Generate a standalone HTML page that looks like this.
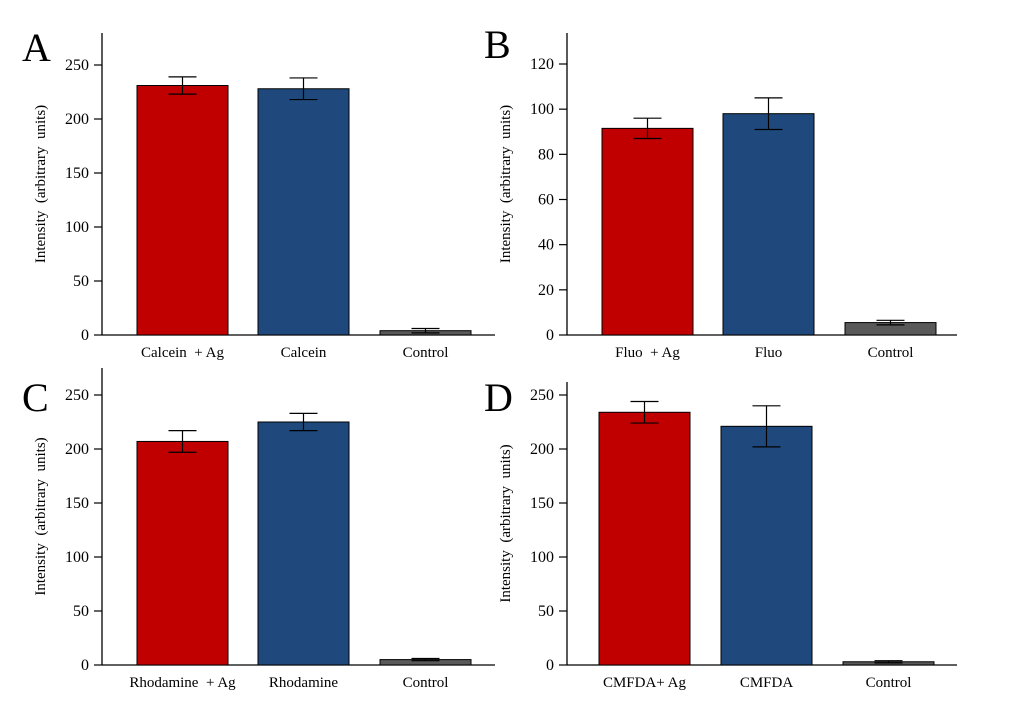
<!DOCTYPE html>
<html><head><meta charset="utf-8">
<style>
html,body{margin:0;padding:0;background:#fff;}
svg{display:block;font-family:"Liberation Serif",serif;}
svg text{white-space:pre;}
</style></head>
<body>
<svg id="chart" width="1024" height="714" viewBox="0 0 1024 714" xmlns="http://www.w3.org/2000/svg"></svg>
<script>
const panelLetters = ["A","B","C","D"];
const categoriesA = ["Calcein  + Ag","Calcein","Control"];
const categoriesB = ["Fluo  + Ag","Fluo","Control"];
const categoriesC = ["Rhodamine  + Ag","Rhodamine","Control"];
const categoriesD = ["CMFDA+ Ag","CMFDA","Control"];
const valuesA = [231, 228, 4];
const errorsA = [8, 10, 2];
const valuesB = [91.5, 98, 5.5];
const errorsB = [4.5, 7, 1];
const valuesC = [207, 225, 5];
const errorsC = [10, 8, 1];
const valuesD = [234, 221, 3];
const errorsD = [10, 19, 1];
const ticksA = [0,50,100,150,200,250];
const ticksB = [0,20,40,60,80,100,120];
const ticksC = [0,50,100,150,200,250];
const ticksD = [0,50,100,150,200,250];
const barColors = ["#c00000","#1f497d","#595959"];

const NS="http://www.w3.org/2000/svg";
const svg=document.getElementById('chart');
function mk(tag,attrs,parent){const e=document.createElementNS(NS,tag);for(const k in attrs)e.setAttribute(k,attrs[k]);(parent||svg).appendChild(e);return e;}

const panels=[
 {letter:panelLetters[0],cats:categoriesA,vals:valuesA,errs:errorsA,ticks:ticksA,max:250,ax:102,x1:495,y0:335,ytop:65,top:33,bx:[137,258,380],bw:91,lx:22,ly:61},
 {letter:panelLetters[1],cats:categoriesB,vals:valuesB,errs:errorsB,ticks:ticksB,max:120,ax:567,x1:957,y0:335,ytop:64,top:33,bx:[602,723,845],bw:91,lx:484,ly:58},
 {letter:panelLetters[2],cats:categoriesC,vals:valuesC,errs:errorsC,ticks:ticksC,max:250,ax:102,x1:495,y0:665,ytop:395,top:368,bx:[137,258,380],bw:91,lx:22,ly:411},
 {letter:panelLetters[3],cats:categoriesD,vals:valuesD,errs:errorsD,ticks:ticksD,max:250,ax:567,x1:957,y0:665,ytop:395,top:382,bx:[599,721,843],bw:91,lx:484,ly:411}
];
panels.forEach((p,pi)=>{
 const g=mk('g',{});
 
 
 const y=v=>p.y0-(v/p.max)*(p.y0-p.ytop);
 const L=mk('text',{x:p.lx,y:p.ly,'font-size':40,fill:'#000'},g);L.textContent=p.letter;
 
 
 const ya=mk('line',{x1:p.ax,y1:p.top,x2:p.ax,y2:p.y0,stroke:'#000','stroke-width':1.3},g);
 
 
 const xa=mk('line',{x1:p.ax,y1:p.y0,x2:p.x1,y2:p.y0,stroke:'#000','stroke-width':1.3},g);
 
 
 p.ticks.forEach(t=>{
  mk('line',{x1:p.ax-8,y1:y(t),x2:p.ax,y2:y(t),stroke:'#000','stroke-width':1.2},g);
  const tt=mk('text',{x:p.ax-13,y:y(t)+5,'font-size':16,'text-anchor':'end',fill:'#000'},g);
  tt.textContent=t;
  
  
 });
 const yt=mk('text',{transform:`translate(${p.ax-57},${(p.top+p.y0)/2}) rotate(-90)`,'font-size':15,'text-anchor':'middle',fill:'#000'},g);
 yt.textContent='Intensity  (arbitrary  units)';
 
 
 p.vals.forEach((v,i)=>{
  const bx=p.bx[i];
  const r=mk('rect',{x:bx,y:y(v),width:p.bw,height:p.y0-y(v),fill:barColors[i],stroke:'#000','stroke-width':1},g);
  
  
  const cx=bx+p.bw/2, e=p.errs[i];
  const eb=mk('path',{d:`M${cx},${y(v+e)}V${y(v-e)}M${cx-14},${y(v+e)}H${cx+14}M${cx-14},${y(v-e)}H${cx+14}`,stroke:'#000','stroke-width':1.2,fill:'none'},g);
  
  
  const c=mk('text',{x:cx,y:p.y0+22,'font-size':15,'text-anchor':'middle',fill:'#000'},g);
  c.textContent=p.cats[i];
  
  
 });
});
</script>
</body></html>
